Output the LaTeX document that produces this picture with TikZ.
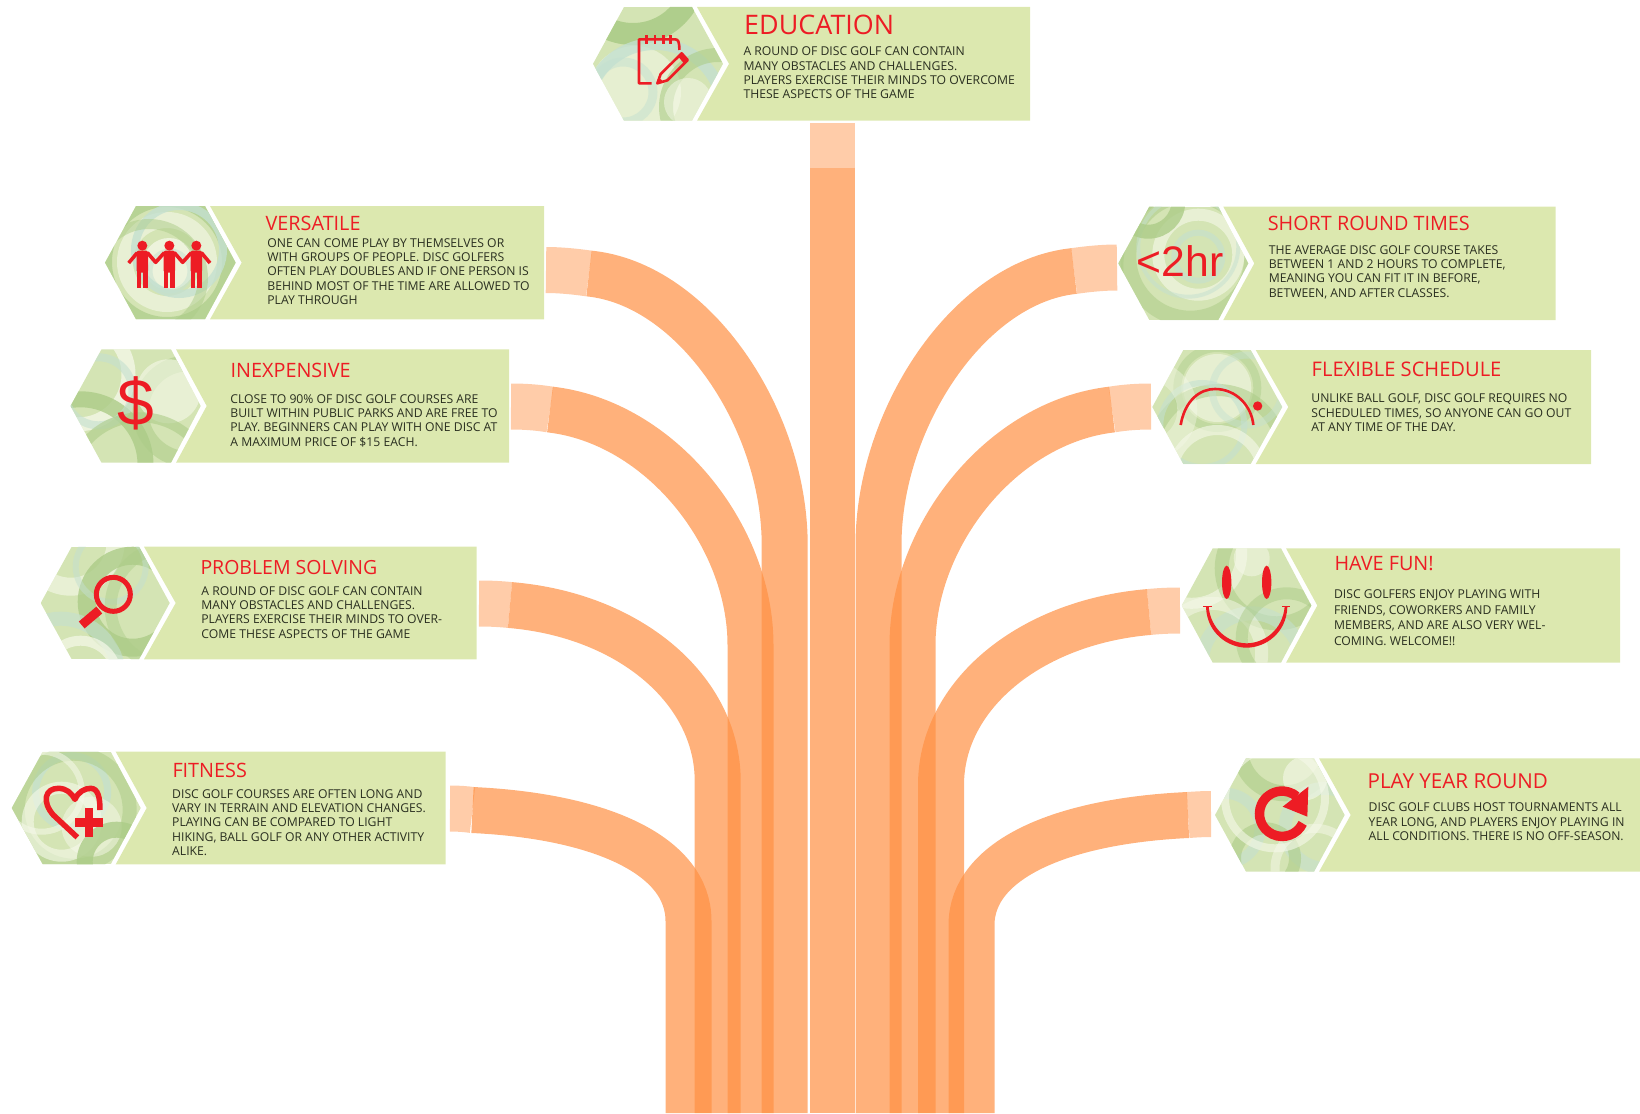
\documentclass[tikz,border=0pt]{standalone}
\usepackage{fontspec}
\setmainfont{Open Sans}
\newfontfamily\arialf{Liberation Sans}
\definecolor{bandc}{RGB}{255,144,67}
\definecolor{bannerc}{RGB}{220,232,175}
\definecolor{iconred}{RGB}{237,28,36}
\definecolor{bodyc}{RGB}{42,47,32}
\definecolor{hexbase}{RGB}{212,228,180}
\definecolor{gd}{RGB}{172,204,136}
\definecolor{gt}{RGB}{196,224,208}
\definecolor{gw}{RGB}{246,249,234}
\tikzset{
 bandmain/.style={draw=bandc,draw opacity=.7,line width=46pt,line cap=butt},
 bandstub/.style={draw=bandc,draw opacity=.46,line width=46pt,line cap=butt},
 ttl/.style={anchor=base west,inner sep=0pt,text=iconred,font=\fontsize{19.8}{21}\selectfont},
 bodytxt/.style={anchor=base west,inner sep=0pt,text=bodyc,align=left,font=\fontsize{12.2}{14.3}\selectfont},
 ic/.style={draw=iconred,line cap=butt,line join=round},
}
\newcommand{\rr}[6]{\draw[#5,draw opacity=#6,line width=#4pt] (#1,#2) circle[radius=#3];}
\newcommand{\dd}[5]{\fill[#4,fill opacity=#5] (#1,#2) circle[radius=#3];}
% L T B corner notch right rings
\newcommand{\hexa}[7]{%
 \pgfmathsetmacro{\hm}{(#2+#3)/2}\pgfmathsetmacro{\hl}{#1+31}\pgfmathsetmacro{\hc}{#4-5}\pgfmathsetmacro{\hn}{#5-6}%
 \begin{scope}
 \clip (#1,\hm) -- (\hl,#2) -- (\hc,#2) -- (\hn,\hm) -- (\hc,#3) -- (\hl,#3) -- cycle;
 \fill[hexbase] (#1,#2) rectangle (#5,#3);
 \begin{scope}[shift={(#1,#2)}]#7\end{scope}
 \end{scope}
 \fill[bannerc] (#4,#2) -- (#5,\hm) -- (#4,#3) -- (#6,#3) -- (#6,#2) -- cycle;
}
\begin{document}
\begin{tikzpicture}[x=1pt,y=-1pt]
\useasboundingbox (0,0) rectangle (1640,1113);
% ---- bands ----
\coordinate (edu-a) at (832.5,123); \coordinate (edu-b) at (832.5,167.7); \coordinate (edu-c) at (832.5,1113);
\draw[bandstub,line width=45pt] (edu-a) -- (edu-b);
\draw[bandmain,line width=45pt] (edu-b) -- (edu-c);
% versatile
\coordinate (ver-a) at (546,270); \coordinate (ver-b) at (589,273.5); \coordinate (ver-c) at (784.7,545); \coordinate (ver-d) at (784.7,1113);
\draw[bandstub] (ver-a) .. controls (560,270) and (575,271.5) .. (ver-b);
\draw[bandmain] (ver-b) .. controls (695,284) and (784.7,420) .. (ver-c) -- (ver-d);
% inexpensive
\coordinate (ine-a) at (511,406.5); \coordinate (ine-b) at (550,409.5); \coordinate (ine-c) at (750.5,645); \coordinate (ine-d) at (750.5,1113);
\draw[bandstub] (ine-a) .. controls (525,406.5) and (538,407.5) .. (ine-b);
\draw[bandmain] (ine-b) .. controls (660,422) and (750.5,535) .. (ine-c) -- (ine-d);
% problem
\coordinate (pro-a) at (479,603.5); \coordinate (pro-b) at (510,605); \coordinate (pro-c) at (717.7,781); \coordinate (pro-d) at (717.7,1113);
\draw[bandstub] (pro-a) .. controls (490,603.5) and (500,604) .. (pro-b);
\draw[bandmain] (pro-b) .. controls (630,615) and (717.7,690) .. (pro-c) -- (pro-d);
% fitness
\coordinate (fit-a) at (450,808.5); \coordinate (fit-b) at (472.5,810); \coordinate (fit-c) at (688.5,921); \coordinate (fit-d) at (688.5,1113);
\draw[bandstub] (fit-a) .. controls (458,808.5) and (465,809) .. (fit-b);
\draw[bandmain] (fit-b) .. controls (600,816) and (688.5,855) .. (fit-c) -- (fit-d);
% short
\coordinate (sho-a) at (1117,267.5); \coordinate (sho-b) at (1074,271); \coordinate (sho-c) at (878.5,545); \coordinate (sho-d) at (878.5,1113);
\draw[bandstub] (sho-a) .. controls (1103,267.5) and (1088,269) .. (sho-b);
\draw[bandmain] (sho-b) .. controls (968,282) and (878.5,420) .. (sho-c) -- (sho-d);
% flexible
\coordinate (fle-a) at (1151,406.5); \coordinate (fle-b) at (1112,409.5); \coordinate (fle-c) at (912.5,645); \coordinate (fle-d) at (912.5,1113);
\draw[bandstub] (fle-a) .. controls (1137,406.5) and (1124,407.5) .. (fle-b);
\draw[bandmain] (fle-b) .. controls (1002,422) and (912.5,535) .. (fle-c) -- (fle-d);
% fun
\coordinate (fun-a) at (1180,610.5); \coordinate (fun-b) at (1149,612); \coordinate (fun-c) at (941,785); \coordinate (fun-d) at (941,1113);
\draw[bandstub] (fun-a) .. controls (1169,610.5) and (1159,611) .. (fun-b);
\draw[bandmain] (fun-b) .. controls (1030,622) and (941,695) .. (fun-c) -- (fun-d);
% play
\coordinate (pla-a) at (1211,814); \coordinate (pla-b) at (1188,815); \coordinate (pla-c) at (971.5,925); \coordinate (pla-d) at (971.5,1113);
\draw[bandstub] (pla-a) .. controls (1203,814) and (1195,814.5) .. (pla-b);
\draw[bandmain] (pla-b) .. controls (1060,821) and (971.5,860) .. (pla-c) -- (pla-d);
% ---- banners ----
\hexa{593}{7}{120.7}{697}{729}{1030}{
 \rr{40}{-35}{62}{22}{gd}{.9}\dd{42}{85}{46}{gw}{.55}\rr{62}{105}{68}{12}{gt}{.8}\rr{125}{100}{52}{14}{gd}{.6}\dd{95}{95}{24}{gw}{.5}\rr{30}{85}{30}{9}{gt}{.5}}
\hexa{105}{206}{319.3}{210}{241.7}{544}{
 \rr{62}{56}{68}{26}{gd}{.7}\rr{62}{56}{42}{16}{gw}{.6}\dd{64}{58}{26}{gw}{.75}\rr{74}{44}{44}{8}{gt}{.8}\rr{44}{72}{54}{10}{gd}{.5}\rr{65}{65}{20}{5}{gt}{.5}}
\hexa{70.5}{349.3}{462.7}{176}{206.7}{509}{
 \rr{8}{25}{50}{14}{gw}{.75}\rr{10}{115}{65}{16}{gd}{.8}\rr{118}{62}{48}{16}{gd}{.55}\dd{98}{42}{32}{gw}{.6}\rr{28}{42}{34}{8}{gt}{.6}\rr{70}{140}{72}{10}{gd}{.6}}
\hexa{40.7}{546.7}{659.3}{144}{175.7}{476.7}{
 \rr{30}{-5}{45}{18}{gw}{.6}\rr{92}{55}{46}{18}{gd}{.8}\rr{20}{130}{58}{14}{gt}{.6}\rr{70}{20}{35}{6}{gt}{.5}\rr{40}{130}{36}{10}{gw}{.7}\rr{130}{60}{60}{12}{gd}{.45}}
\hexa{11.7}{751.7}{864.3}{115.7}{146.7}{445.7}{
 \rr{60}{40}{36}{7}{gt}{.7}\rr{62}{58}{56}{14}{gd}{.55}\dd{80}{75}{30}{gw}{.5}\rr{50}{70}{34}{12}{gw}{.6}\rr{105}{110}{32}{16}{gd}{.8}\rr{30}{40}{40}{6}{gw}{.55}}
\hexa{1118.3}{206.7}{320}{1223.3}{1254.3}{1555.7}{
 \rr{72}{50}{62}{16}{gd}{.55}\rr{80}{48}{40}{12}{gw}{.6}\rr{80}{50}{24}{6}{gt}{.6}\rr{80}{60}{82}{14}{gd}{.6}\rr{70}{40}{50}{4}{gt}{.5}\rr{30}{-5}{30}{14}{gd}{.8}}
\hexa{1152.3}{350}{464}{1255.7}{1288.3}{1591}{
 \dd{65}{38}{34}{gw}{.55}\rr{65}{38}{40}{8}{gd}{.45}\rr{65}{105}{65}{12}{gd}{.55}\rr{50}{75}{42}{6}{gt}{.6}\rr{95}{40}{35}{7}{gt}{.45}\rr{65}{125}{45}{10}{gw}{.6}\rr{-5}{60}{40}{20}{gw}{.4}}
\hexa{1181.7}{548.3}{662.7}{1286}{1317.3}{1620}{
 \rr{10}{5}{50}{11}{gw}{.6}\rr{95}{20}{55}{14}{gd}{.55}\rr{70}{115}{50}{14}{gt}{.55}\rr{30}{105}{50}{13}{gw}{.5}\rr{105}{90}{45}{12}{gd}{.5}\dd{70}{10}{18}{gw}{.5}}
\hexa{1215}{758.3}{871.7}{1319}{1350.7}{1640}{
 \rr{70}{-10}{45}{16}{gd}{.6}\rr{10}{70}{35}{11}{gt}{.6}\rr{110}{70}{40}{13}{gt}{.55}\rr{50}{100}{30}{12}{gd}{.6}\dd{90}{20}{22}{gw}{.6}\rr{60}{40}{50}{8}{gw}{.6}\rr{100}{110}{40}{9}{gw}{.5}}
% ---- titles ----
\node[ttl,font=\fontsize{26.9}{28}\selectfont] (t-edu) at (744,35) {EDUCATION};
\node[bodytxt] (b-edu) at (743.3,98.9) {A ROUND OF DISC GOLF CAN CONTAIN\\MANY OBSTACLES AND CHALLENGES.\\PLAYERS EXERCISE THEIR MINDS TO OVERCOME\\THESE ASPECTS OF THE GAME};
\node[ttl] (t-ver) at (265.5,230) {VERSATILE};
\node[bodytxt] (b-ver) at (267.2,304.5) {ONE CAN COME PLAY BY THEMSELVES OR\\WITH GROUPS OF PEOPLE. DISC GOLFERS\\OFTEN PLAY DOUBLES AND IF ONE PERSON IS\\BEHIND MOST OF THE TIME ARE ALLOWED TO\\PLAY THROUGH};
\node[ttl] (t-ine) at (230.5,377.3) {INEXPENSIVE};
\node[bodytxt] (b-ine) at (230.2,446.2) {CLOSE TO 90\% OF DISC GOLF COURSES ARE\\BUILT WITHIN PUBLIC PARKS AND ARE FREE TO\\PLAY. BEGINNERS CAN PLAY WITH ONE DISC AT\\A MAXIMUM PRICE OF \$15 EACH.};
\node[ttl,font=\fontsize{19.5}{21}\selectfont] (t-pro) at (200.3,574.3) {PROBLEM SOLVING};
\node[bodytxt] (b-pro) at (201.2,638.2) {A ROUND OF DISC GOLF CAN CONTAIN\\MANY OBSTACLES AND CHALLENGES.\\PLAYERS EXERCISE THEIR MINDS TO OVER-\\COME THESE ASPECTS OF THE GAME};
\node[ttl] (t-fit) at (172.3,777.3) {FITNESS};
\node[bodytxt] (b-fit) at (172,855.5) {DISC GOLF COURSES ARE OFTEN LONG AND\\VARY IN TERRAIN AND ELEVATION CHANGES.\\PLAYING CAN BE COMPARED TO LIGHT\\HIKING, BALL GOLF OR ANY OTHER ACTIVITY\\ALIKE.};
\node[ttl] (t-sho) at (1267.6,230) {SHORT ROUND TIMES};
\node[bodytxt] (b-sho) at (1268.6,297.2) {THE AVERAGE DISC GOLF COURSE TAKES\\BETWEEN 1 AND 2 HOURS TO COMPLETE,\\MEANING YOU CAN FIT IT IN BEFORE,\\BETWEEN, AND AFTER CLASSES.};
\node[ttl,font=\fontsize{20.1}{21}\selectfont] (t-fle) at (1311.5,376.7) {FLEXIBLE SCHEDULE};
\node[bodytxt] (b-fle) at (1311.2,431.3) {UNLIKE BALL GOLF, DISC GOLF REQUIRES NO\\SCHEDULED TIMES, SO ANYONE CAN GO OUT\\AT ANY TIME OF THE DAY.};
\node[ttl] (t-fun) at (1334.3,570) {HAVE FUN!};
\node[bodytxt,font=\fontsize{12.2}{15.7}\selectfont] (b-fun) at (1333.8,645.4) {DISC GOLFERS ENJOY PLAYING WITH\\FRIENDS, COWORKERS AND FAMILY\\MEMBERS, AND ARE ALSO VERY WEL-\\COMING. WELCOME!!};
\node[ttl,font=\fontsize{20.6}{21}\selectfont] (t-pla) at (1367.4,788.7) {PLAY YEAR ROUND};
\node[bodytxt] (b-pla) at (1368.5,840.3) {DISC GOLF CLUBS HOST TOURNAMENTS ALL\\YEAR LONG, AND PLAYERS ENJOY PLAYING IN\\ALL CONDITIONS. THERE IS NO OFF-SEASON.};
% ---- icons ----
\begin{scope}[shift={(580,0)},scale=1/3]
 \draw[ic,line width=2.6pt] (215,250) -- (177,250) -- (177,118) -- (285,118) .. controls (295,118) and (298,125) .. (298,150);
 \foreach \x in {200,225,250,272}{\draw[ic,line width=2.4pt] (\x,105) -- (\x,131);}
 \draw[ic,line width=2.6pt] (232,250) -- (242,222) -- (305,160) -- (323,180) -- (262,241) -- cycle;
 \fill[iconred] (295,170) -- (305,158) -- (325,180) -- (313,192) -- cycle;
 \fill[iconred] (230,252) -- (236,232) -- (250,245) -- cycle;
\end{scope}
\begin{scope}[shift={(90,190)},scale=1/3]
 \foreach \x in {157,238,319}{
  \fill[iconred] (\x,167) circle[radius=15];
  \fill[iconred,rounded corners=2pt] (\x-17,182) rectangle (\x+17,248);
  \fill[iconred] (\x-17,240) rectangle (\x-3,293);
  \fill[iconred] (\x+3,240) rectangle (\x+17,293);
 }
 \draw[ic,line width=3.6pt] (116,219) -- (142,188);
 \draw[ic,line width=3.6pt] (172,188) -- (197,217) -- (223,188);
 \draw[ic,line width=3.6pt] (253,188) -- (278,217) -- (304,188);
 \draw[ic,line width=3.6pt] (334,188) -- (360,219);
\end{scope}
\node[inner sep=0pt,text=iconred,font=\arialf\fontsize{66}{66}\selectfont] (i-dollar) at (135.7,403) {\$};
\begin{scope}[shift={(0,530)},scale=1/3]
 \draw[ic,line width=5pt] (340,193) circle[radius=51];
 \draw[ic,line width=9pt] (298,240) -- (245,285);
\end{scope}
\begin{scope}[shift={(0,530)},scale=1/3]
 \draw[ic,line width=5.5pt] (232,922) -- (160,855) .. controls (125,815) and (135,775) .. (175,775) .. controls (200,775) and (215,790) .. (225,808) .. controls (235,785) and (255,775) .. (272,775) .. controls (295,775) and (300,805) .. (300,840);
 \fill[iconred] (254,835) rectangle (280,920);
 \fill[iconred] (224,864) rectangle (310,890);
\end{scope}
\node[inner sep=0pt,text=iconred,font=\arialf\fontsize{42.7}{43}\selectfont] (i-2hr) at (1180,261) {<2hr};
\begin{scope}[shift={(1090,190)},scale=1/3]
 \draw[ic,line width=2.6pt] (272,705) .. controls (285,630) and (330,597) .. (375,597) .. controls (440,597) and (485,650) .. (490,705);
 \fill[iconred] (503,648) circle[radius=14];
\end{scope}
\begin{scope}[shift={(1150,530)},scale=1/3]
 \fill[iconred] (230,157) ellipse[x radius=14,y radius=50];
 \fill[iconred] (350,157) ellipse[x radius=14,y radius=50];
 \fill[iconred] (168,230) .. controls (170,310) and (235,353) .. (290,353) .. controls (345,353) and (410,310) .. (412,230) -- (404,230) .. controls (398,298) and (345,339) .. (290,340) .. controls (235,339) and (182,298) .. (176,230) -- cycle;
 \draw[ic,line width=1.4pt] (160,230) -- (185,230);
 \draw[ic,line width=1.4pt] (396,230) -- (420,230);
\end{scope}
\begin{scope}[shift={(1150,530)},scale=1/3]
 \draw[ic,line width=9.5pt] (458,880) arc[start angle=25,end angle=310,radius=68];
 \fill[iconred] (475,770) -- (472,860) -- (398,830) -- cycle;
\end{scope}
\end{tikzpicture}
\end{document}
